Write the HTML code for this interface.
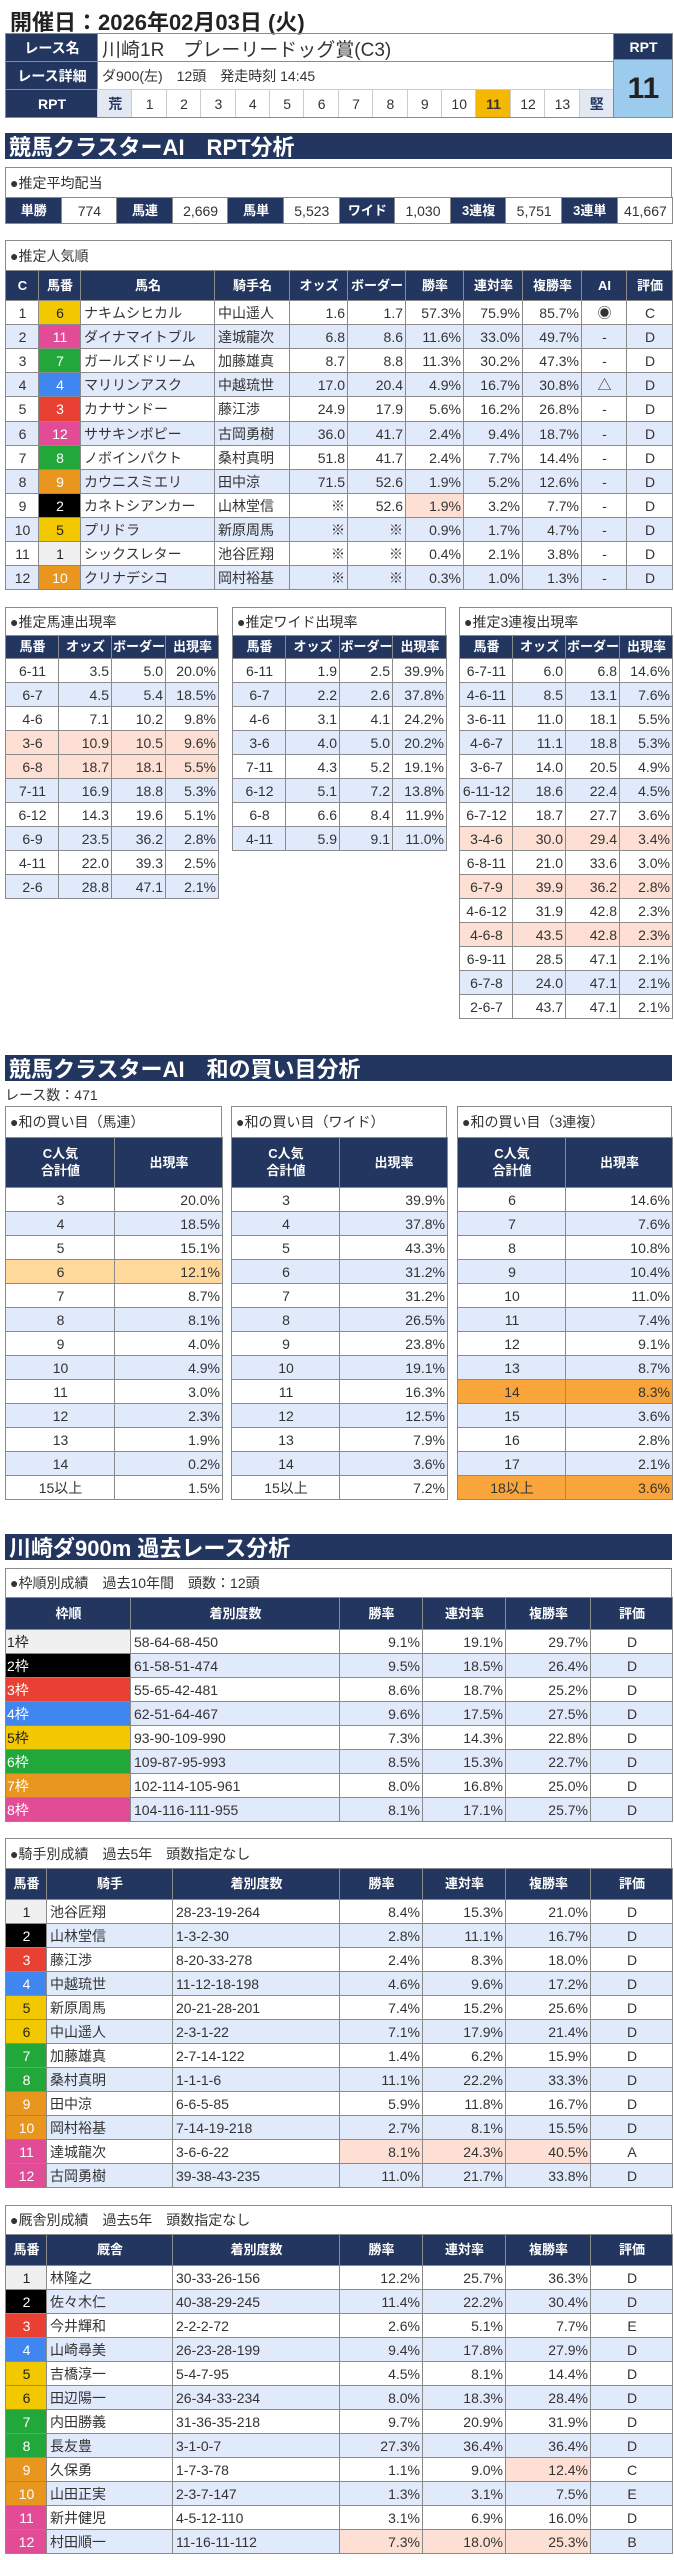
<!DOCTYPE html>
<html lang="ja"><head><meta charset="utf-8">
<style>
*{box-sizing:border-box;margin:0;padding:0}
body{width:674px;height:2560px;background:#fff;position:relative;overflow:hidden;font-family:"Liberation Sans","Noto Sans CJK JP",sans-serif;color:#333}
.a{position:absolute}
.c{position:absolute;border-left:1px solid #8a8a8a;border-top:1px solid #8a8a8a;display:flex;align-items:center;font-size:14px;white-space:nowrap;overflow:hidden}
.h{background:#22365f;color:#fff;font-weight:bold;font-size:13px;justify-content:center;text-align:center;line-height:1.3}
.sec{position:absolute;left:5px;width:667px;height:32px;background:#22365f;color:#fff;font-weight:bold;font-size:22px;padding-left:4px;display:flex;align-items:center}
.box{position:absolute;border:1px solid #8a8a8a;font-size:14px;padding-left:4px;display:flex;align-items:center;background:#fff}
</style></head><body>
<div class="a" style="left:10px;top:5px;font-size:22px;font-weight:bold;color:#222">開催日：2026年02月03日 (火)</div>

<div class="sec" style="top:133px;height:26px">競馬クラスターAI　RPT分析</div>
<div class="box" style="left:5px;top:167px;width:667px;height:31px">●推定平均配当</div>
<div class="box" style="left:5px;top:240px;width:667px;height:31px">●推定人気順</div>
<div class="box" style="left:5px;top:607px;width:213px;height:29px">●推定馬連出現率</div>
<div class="box" style="left:232px;top:607px;width:214px;height:29px">●推定ワイド出現率</div>
<div class="box" style="left:459px;top:607px;width:213px;height:29px">●推定3連複出現率</div>

<div class="sec" style="top:1055px;height:26px">競馬クラスターAI　和の買い目分析</div>
<div class="a" style="left:5px;top:1085px;font-size:14px">レース数：471</div>
<div class="box" style="left:5px;top:1106px;width:217px;height:32px">●和の買い目（馬連）</div>
<div class="box" style="left:231px;top:1106px;width:216px;height:32px">●和の買い目（ワイド）</div>
<div class="box" style="left:457px;top:1106px;width:215px;height:32px">●和の買い目（3連複）</div>

<div class="sec" style="top:1534px;height:26px">川崎ダ900m 過去レース分析</div>
<div class="box" style="left:5px;top:1568px;width:667px;height:30px">●枠順別成績　過去10年間　頭数：12頭</div>
<div class="box" style="left:5px;top:1838px;width:667px;height:31px">●騎手別成績　過去5年　頭数指定なし</div>
<div class="box" style="left:5px;top:2205px;width:667px;height:30px">●厩舎別成績　過去5年　頭数指定なし</div>

<script>
const NAVY='#22365f',BLUE='#e0eafb',PEACH='#fde0d3',LOR='#ffd99c',OR='#f9a53b';
const FBG=['','#f0f0f0','#000','#e84133','#3f86f0','#f2c900','#22a83a','#e8961e','#e24c97'];
const FFG=['','#222','#fff','#fff','#fff','#222','#fff','#fff','#fff'];
const HORSE_FRAME=[0,1,2,3,4,5,5,6,6,7,7,8,8];

const rptLevels=['荒','1','2','3','4','5','6','7','8','9','10','11','12','13','堅'];
const rptValue=11;
const payoutLabels=['単勝','馬連','馬単','ワイド','3連複','3連単'];
const payoutValues=['774','2,669','5,523','1,030','5,751','41,667'];

const popHeaders=['C','馬番','馬名','騎手名','オッズ','ボーダー','勝率','連対率','複勝率','AI','評価'];
const popRank=[1,2,3,4,5,6,7,8,9,10,11,12];
const popNum=[6,11,7,4,3,12,8,9,2,5,1,10];
const popName=['ナキムシヒカル','ダイナマイトブル','ガールズドリーム','マリリンアスク','カナサンドー','ササキンボピー','ノボインパクト','カウニスミエリ','カネトシアンカー','プリドラ','シックスレター','クリナデシコ'];
const popJockey=['中山遥人','達城龍次','加藤雄真','中越琉世','藤江渉','古岡勇樹','桑村真明','田中涼','山林堂信','新原周馬','池谷匠翔','岡村裕基'];
const popOdds=['1.6','6.8','8.7','17.0','24.9','36.0','51.8','71.5','※','※','※','※'];
const popBorder=['1.7','8.6','8.8','20.4','17.9','41.7','41.7','52.6','52.6','※','※','※'];
const popWin=['57.3%','11.6%','11.3%','4.9%','5.6%','2.4%','2.4%','1.9%','1.9%','0.9%','0.4%','0.3%'];
const popRen=['75.9%','33.0%','30.2%','16.7%','16.2%','9.4%','7.7%','5.2%','3.2%','1.7%','2.1%','1.0%'];
const popFuku=['85.7%','49.7%','47.3%','30.8%','26.8%','18.7%','14.4%','12.6%','7.7%','4.7%','3.8%','1.3%'];
const popAI=['◉','-','-','△','-','-','-','-','-','-','-','-'];
const popEval=['C','D','D','D','D','D','D','D','D','D','D','D'];

const umarenKeys=['6-11','6-7','4-6','3-6','6-8','7-11','6-12','6-9','4-11','2-6'];
const umarenOdds=['3.5','4.5','7.1','10.9','18.7','16.9','14.3','23.5','22.0','28.8'];
const umarenBorder=['5.0','5.4','10.2','10.5','18.1','18.8','19.6','36.2','39.3','47.1'];
const umarenRate=['20.0%','18.5%','9.8%','9.6%','5.5%','5.3%','5.1%','2.8%','2.5%','2.1%'];
const umarenHi=[0,0,0,1,1,0,0,0,0,0];
const wideKeys=['6-11','6-7','4-6','3-6','7-11','6-12','6-8','4-11'];
const wideOdds=['1.9','2.2','3.1','4.0','4.3','5.1','6.6','5.9'];
const wideBorder=['2.5','2.6','4.1','5.0','5.2','7.2','8.4','9.1'];
const wideRate=['39.9%','37.8%','24.2%','20.2%','19.1%','13.8%','11.9%','11.0%'];
const wideHi=[0,0,0,0,0,0,0,0];
const trioKeys=['6-7-11','4-6-11','3-6-11','4-6-7','3-6-7','6-11-12','6-7-12','3-4-6','6-8-11','6-7-9','4-6-12','4-6-8','6-9-11','6-7-8','2-6-7'];
const trioOdds=['6.0','8.5','11.0','11.1','14.0','18.6','18.7','30.0','21.0','39.9','31.9','43.5','28.5','24.0','43.7'];
const trioBorder=['6.8','13.1','18.1','18.8','20.5','22.4','27.7','29.4','33.6','36.2','42.8','42.8','47.1','47.1','47.1'];
const trioRate=['14.6%','7.6%','5.5%','5.3%','4.9%','4.5%','3.6%','3.4%','3.0%','2.8%','2.3%','2.3%','2.1%','2.1%','2.1%'];
const trioHi=[0,0,0,0,0,0,0,1,0,1,0,1,0,0,0];

const sumKeysA=['3','4','5','6','7','8','9','10','11','12','13','14','15以上'];
const sumRateA=['20.0%','18.5%','15.1%','12.1%','8.7%','8.1%','4.0%','4.9%','3.0%','2.3%','1.9%','0.2%','1.5%'];
const sumHiA=[0,0,0,1,0,0,0,0,0,0,0,0,0];
const sumKeysB=['3','4','5','6','7','8','9','10','11','12','13','14','15以上'];
const sumRateB=['39.9%','37.8%','43.3%','31.2%','31.2%','26.5%','23.8%','19.1%','16.3%','12.5%','7.9%','3.6%','7.2%'];
const sumHiB=[0,0,0,0,0,0,0,0,0,0,0,0,0];
const sumKeysC=['6','7','8','9','10','11','12','13','14','15','16','17','18以上'];
const sumRateC=['14.6%','7.6%','10.8%','10.4%','11.0%','7.4%','9.1%','8.7%','8.3%','3.6%','2.8%','2.1%','3.6%'];
const sumHiC=[0,0,0,0,0,0,0,0,2,0,0,0,2];

const frameLabels=['1枠','2枠','3枠','4枠','5枠','6枠','7枠','8枠'];
const frameRec=['58-64-68-450','61-58-51-474','55-65-42-481','62-51-64-467','93-90-109-990','109-87-95-993','102-114-105-961','104-116-111-955'];
const frameWin=['9.1%','9.5%','8.6%','9.6%','7.3%','8.5%','8.0%','8.1%'];
const frameRen=['19.1%','18.5%','18.7%','17.5%','14.3%','15.3%','16.8%','17.1%'];
const frameFuku=['29.7%','26.4%','25.2%','27.5%','22.8%','22.7%','25.0%','25.7%'];
const frameEval=['D','D','D','D','D','D','D','D'];

const jkName=['池谷匠翔','山林堂信','藤江渉','中越琉世','新原周馬','中山遥人','加藤雄真','桑村真明','田中涼','岡村裕基','達城龍次','古岡勇樹'];
const jkRec=['28-23-19-264','1-3-2-30','8-20-33-278','11-12-18-198','20-21-28-201','2-3-1-22','2-7-14-122','1-1-1-6','6-6-5-85','7-14-19-218','3-6-6-22','39-38-43-235'];
const jkWin=['8.4%','2.8%','2.4%','4.6%','7.4%','7.1%','1.4%','11.1%','5.9%','2.7%','8.1%','11.0%'];
const jkRen=['15.3%','11.1%','8.3%','9.6%','15.2%','17.9%','6.2%','22.2%','11.8%','8.1%','24.3%','21.7%'];
const jkFuku=['21.0%','16.7%','18.0%','17.2%','25.6%','21.4%','15.9%','33.3%','16.7%','15.5%','40.5%','33.8%'];
const jkEval=['D','D','D','D','D','D','D','D','D','D','A','D'];
const jkHi=[[],[],[],[],[],[],[],[],[],[],[3,4,5],[]];

const trName=['林隆之','佐々木仁','今井輝和','山崎尋美','吉橋淳一','田辺陽一','内田勝義','長友豊','久保勇','山田正実','新井健児','村田順一'];
const trRec=['30-33-26-156','40-38-29-245','2-2-2-72','26-23-28-199','5-4-7-95','26-34-33-234','31-36-35-218','3-1-0-7','1-7-3-78','2-3-7-147','4-5-12-110','11-16-11-112'];
const trWin=['12.2%','11.4%','2.6%','9.4%','4.5%','8.0%','9.7%','27.3%','1.1%','1.3%','3.1%','7.3%'];
const trRen=['25.7%','22.2%','5.1%','17.8%','8.1%','18.3%','20.9%','36.4%','9.0%','3.1%','6.9%','18.0%'];
const trFuku=['36.3%','30.4%','7.7%','27.9%','14.4%','28.4%','31.9%','36.4%','12.4%','7.5%','16.0%','25.3%'];
const trEval=['D','D','E','D','D','D','D','D','C','E','D','B'];
const trHi=[[],[],[],[],[],[],[],[],[5],[],[],[3,4,5]];

function mk(x,y,w,h,txt,cls,st,name,inter){
  const d=document.createElement('div');
  d.className=cls;
  d.style.left=x+'px';d.style.top=y+'px';d.style.width=(w+1)+'px';d.style.height=(h+1)+'px';
  if(st)Object.assign(d.style,st);
  d.innerHTML=txt;
  
  
  document.body.appendChild(d);
  return d;
}
function frameBorder(x,y,w,h,name){
  const d=document.createElement('div');
  d.className='a';
  Object.assign(d.style,{left:x+'px',top:y+'px',width:(w+1)+'px',height:(h+1)+'px',border:'1px solid #8a8a8a',pointerEvents:'none'});
  
  
  document.body.appendChild(d);
}
const AL={l:'flex-start',r:'flex-end',c:'center'};
function table(name,edges,y0,headH,headers,rowH,cols,aligns,rowStyle){
  const n=cols[0].length;
  for(let i=0;i<headers.length;i++)
    mk(edges[i],y0,edges[i+1]-edges[i],headH,headers[i],'c h',null,name+'-header-'+i,false);
  for(let r=0;r<n;r++){
    const y=y0+headH+r*rowH;
    for(let i=0;i<cols.length;i++){
      const st={justifyContent:AL[aligns[i]],background:r%2?BLUE:'#fff',padding:'0 3px'};
      if(rowStyle)rowStyle(r,i,st);
      mk(edges[i],y,edges[i+1]-edges[i],rowH,cols[i][r],'c',st,name+'-cell',false);
    }
  }
  frameBorder(edges[0],y0,edges[edges.length-1]-edges[0],headH+n*rowH,name+'-border');
}

/* race info */
mk(5,33,92,28,'レース名','c h',{fontSize:'14px'},'race-name-label',false);
mk(5,61,92,28,'レース詳細','c h',{fontSize:'14px'},'race-detail-label',false);
mk(5,89,92,28,'RPT','c h',{fontSize:'14px'},'rpt-label',false);
mk(97,33,516,28,'川崎1R　プレーリードッグ賞(C3)','c',{fontSize:'19px',paddingLeft:'4px'},'race-name',false);
mk(97,61,516,28,'ダ900(左)　12頭　発走時刻 14:45','c',{fontSize:'14px',paddingLeft:'4px'},'race-detail',false);
const cw=(613-97)/rptLevels.length;
rptLevels.forEach((v,i)=>{
  const hi=(+v===rptValue), end=(i===0||i===rptLevels.length-1);
  mk(97+i*cw,89,cw,28,v,'c',{justifyContent:'center',fontSize:'14px',background:hi?'#f5b800':end?'#e4e8f2':'#fff',fontWeight:(hi||end)?'bold':'normal',color:end?'#22365f':'#333',borderColor:'#ccc'},'rpt-level-'+v,false);
});
mk(613,33,59,26,'RPT','c h',{fontSize:'14px'},'rpt-head',false);
mk(613,59,59,58,'11','c',{justifyContent:'center',background:'#9ccbee',fontSize:'30px',fontWeight:'bold',color:'#222'},'rpt-value',false);
frameBorder(5,33,667,84,'race-table-border');

/* payouts */
payoutLabels.forEach((l,i)=>{
  const x=5+i*111.2;
  mk(x,197,55.6,26,l,'c h',{fontSize:'13px'},'payout-label-'+i,false);
  mk(x+55.6,197,55.6,26,payoutValues[i],'c',{justifyContent:'center',fontSize:'14px'},'payout-value-'+i,false);
});
frameBorder(5,197,667,26,'payout-border');

/* popularity */
table('popularity',[5,38,80,214,289,347,405,463,522,581,626,672],270,30,popHeaders,24.1,
 [popRank,popNum,popName,popJockey,popOdds,popBorder,popWin,popRen,popFuku,popAI,popEval],
 ['c','c','l','l','r','r','r','r','r','c','c'],
 (r,i,st)=>{
   if(i===1){const f=HORSE_FRAME[popNum[r]];st.background=FBG[f];st.color=FFG[f];}
   if(i===6&&r===8)st.background=PEACH;
 });

/* estimated tables */
const smallH=['馬番','オッズ','ボーダー','出現率'];
table('umaren',[5,58,111,165,218],635,23,smallH,24,[umarenKeys,umarenOdds,umarenBorder,umarenRate],['c','r','r','r'],(r,i,st)=>{if(umarenHi[r])st.background=PEACH;});
table('wide',[232,285,339,392,446],635,23,smallH,24,[wideKeys,wideOdds,wideBorder,wideRate],['c','r','r','r'],(r,i,st)=>{if(wideHi[r])st.background=PEACH;});
table('trio',[459,512,565,619,672],635,23,smallH,24,[trioKeys,trioOdds,trioBorder,trioRate],['c','r','r','r'],(r,i,st)=>{if(trioHi[r])st.background=PEACH;});

/* sum tables */
const sumH=['C人気<br>合計値','出現率'];
function hiSum(arr){return (r,i,st)=>{if(arr[r]===1)st.background=LOR;if(arr[r]===2)st.background=OR;};}
table('sum-umaren',[5,114,222],1137,50,sumH,24,[sumKeysA,sumRateA],['c','r'],hiSum(sumHiA));
table('sum-wide',[231,339,447],1137,50,sumH,24,[sumKeysB,sumRateB],['c','r'],hiSum(sumHiB));
table('sum-trio',[457,565,672],1137,50,sumH,24,[sumKeysC,sumRateC],['c','r'],hiSum(sumHiC));

/* frame table */
table('frame',[5,130,339,422,505,590,672],1597,32,['枠順','着別度数','勝率','連対率','複勝率','評価'],24,
 [frameLabels,frameRec,frameWin,frameRen,frameFuku,frameEval],['l','l','r','r','r','c'],
 (r,i,st)=>{if(i===0){st.background=FBG[r+1];st.color=FFG[r+1];st.padding='0 1px';}});

/* jockey & trainer */
const jkNums=jkName.map((_,i)=>String(i+1));
const hiRow=(hi)=>(r,i,st)=>{
  if(i===0){const f=HORSE_FRAME[r+1];st.background=FBG[f];st.color=FFG[f];}
  if(hi[r].indexOf(i)>=0)st.background=PEACH;
};
table('jockey',[5,46,172,339,422,505,590,672],1868,31,['馬番','騎手','着別度数','勝率','連対率','複勝率','評価'],24,
 [jkNums,jkName,jkRec,jkWin,jkRen,jkFuku,jkEval],['c','l','l','r','r','r','c'],hiRow(jkHi));
table('trainer',[5,46,172,339,422,505,590,672],2234,31,['馬番','厩舎','着別度数','勝率','連対率','複勝率','評価'],24,
 [jkNums,trName,trRec,trWin,trRen,trFuku,trEval],['c','l','l','r','r','r','c'],hiRow(trHi));
</script>
</body></html>
